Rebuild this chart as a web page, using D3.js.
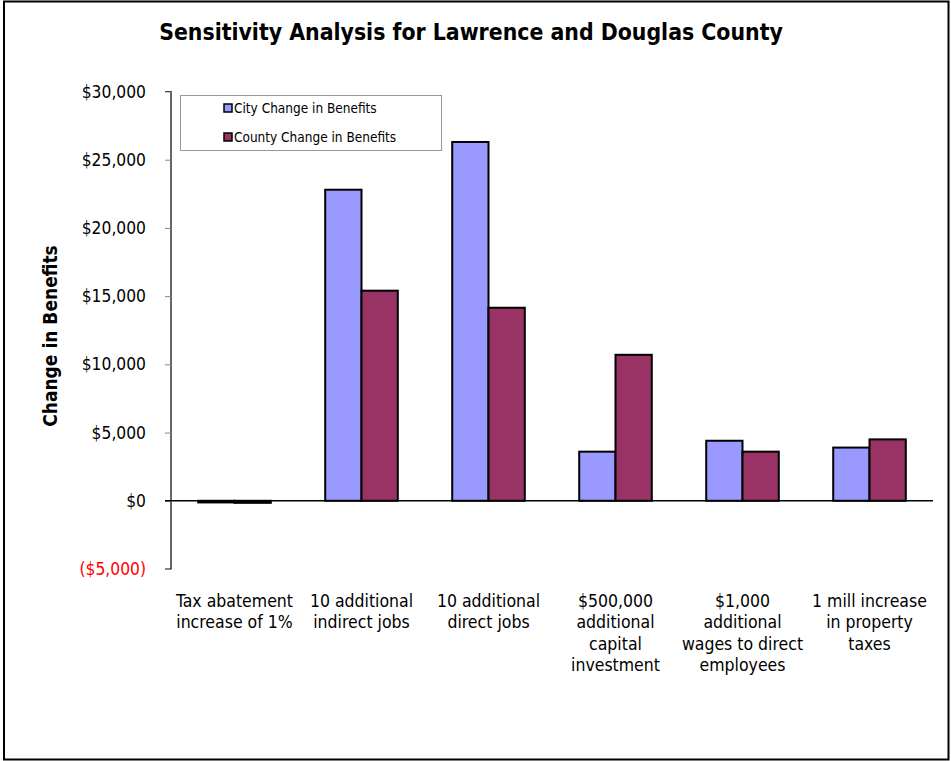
<!DOCTYPE html>
<html>
<head>
<meta charset="utf-8">
<script src="https://cdn.jsdelivr.net/npm/d3@7"></script>
<style>
  html, body { margin: 0; padding: 0; background: #fff; }
  svg { display: block; }
  text { font-family: "DejaVu Sans Condensed", "DejaVu Sans", sans-serif; }
</style>
</head>
<body>
<svg id="chart" width="951" height="761"></svg>
<script>
// Scenario categories (each label split into its printed lines)
const categories = [
  ["Tax abatement", "increase of 1%"],
  ["10 additional", "indirect jobs"],
  ["10 additional", "direct jobs"],
  ["$500,000", "additional", "capital", "investment"],
  ["$1,000", "additional", "wages to direct", "employees"],
  ["1 mill increase", "in property", "taxes"]
];
const seriesNames = ["City Change in Benefits", "County Change in Benefits"];
const cityValues   = [-120, 22800, 26300, 3600, 4400, 3900];
const countyValues = [-150, 15400, 14150, 10700, 3600, 4500];
const yTicks = [-5000, 0, 5000, 10000, 15000, 20000, 25000, 30000];

const colors = ["#9999FF", "#993366"];
const series = [cityValues, countyValues];

const svg = d3.select("#chart");

// outer frame
svg.append("rect")
  .attr("x", 4).attr("y", 1.5).attr("width", 944.5).attr("height", 758)
  .attr("fill", "none").attr("stroke", "#000").attr("stroke-width", 2);

const plot = { left: 171, right: 933, top: 91.5, bottom: 569 };

const y = d3.scaleLinear().domain([-5000, 30000]).range([plot.bottom, plot.top]);
// bar pair inside each category slot
const slot = (plot.right - plot.left) / categories.length;
const barW = slot / 3.5;

const fmt = v => v < 0 ? "($" + d3.format(",")(-v) + ")" : "$" + d3.format(",")(v);

// y axis
const yAxis = d3.axisLeft(y).tickValues(yTicks).tickSize(6).tickPadding(19).tickFormat(fmt);
const gy = svg.append("g").attr("transform", `translate(${plot.left},0)`).call(yAxis);
gy.select(".domain").attr("stroke", "#000").attr("stroke-width", 1.2)
  .attr("d", `M-6,${y(30000)}H0V${y(-5000)}H-6`);
gy.selectAll(".tick line").attr("stroke", "#888").attr("stroke-width", 1);
gy.selectAll(".tick text")
  .attr("font-size", 17.3)
  .attr("font-family", "'DejaVu Sans Condensed', 'DejaVu Sans', sans-serif")
  .attr("fill", d => d < 0 ? "#FF0000" : "#000");

// bars
categories.forEach((c, i) => {
  const cx = plot.left + slot * (i + 0.5);
  series.forEach((vals, s) => {
    const v = vals[i];
    const x0 = cx - barW + s * barW;
    svg.append("rect")
      .attr("x", x0).attr("width", barW)
      .attr("y", Math.min(y(v), y(0)))
      .attr("height", Math.max(Math.abs(y(v) - y(0)), 1))
      .attr("fill", colors[s])
      .attr("stroke", "#000").attr("stroke-width", 2);
  });
});

// zero line
svg.append("line")
  .attr("x1", plot.left - 6).attr("x2", plot.right)
  .attr("y1", y(0)).attr("y2", y(0))
  .attr("stroke", "#000").attr("stroke-width", 1.5);

// category labels
categories.forEach((lines, i) => {
  const cx = plot.left + slot * (i + 0.5);
  const t = svg.append("text")
    .attr("text-anchor", "middle").attr("font-size", 17.5).attr("fill", "#000");
  lines.forEach((ln, k) => {
    t.append("tspan").attr("x", cx).attr("y", 607 + k * 21.3).text(ln);
  });
});

// title
svg.append("text")
  .attr("x", 471).attr("y", 40).attr("text-anchor", "middle")
  .attr("font-size", 22.8).attr("font-weight", "bold")
  .text("Sensitivity Analysis for Lawrence and Douglas County");

// y axis title
svg.append("text")
  .attr("transform", `translate(57,336) rotate(-90)`)
  .attr("text-anchor", "middle").attr("font-size", 19).attr("font-weight", "bold")
  .attr("font-family", "'Liberation Sans', Arial, sans-serif")
  .text("Change in Benefits");

// legend
const lg = svg.append("g");
lg.append("rect").attr("x", 180.5).attr("y", 95.5).attr("width", 261).attr("height", 55)
  .attr("fill", "#fff").attr("stroke", "#999").attr("stroke-width", 1);
seriesNames.forEach((n, s) => {
  const ly = 108 + s * 29;
  lg.append("rect").attr("x", 224).attr("y", ly - 4).attr("width", 8).attr("height", 8)
    .attr("fill", colors[s]).attr("stroke", "#000").attr("stroke-width", 1.5);
  lg.append("text").attr("x", 234).attr("y", ly + 5).attr("font-size", 13.5).text(n);
});
</script>
</body>
</html>
